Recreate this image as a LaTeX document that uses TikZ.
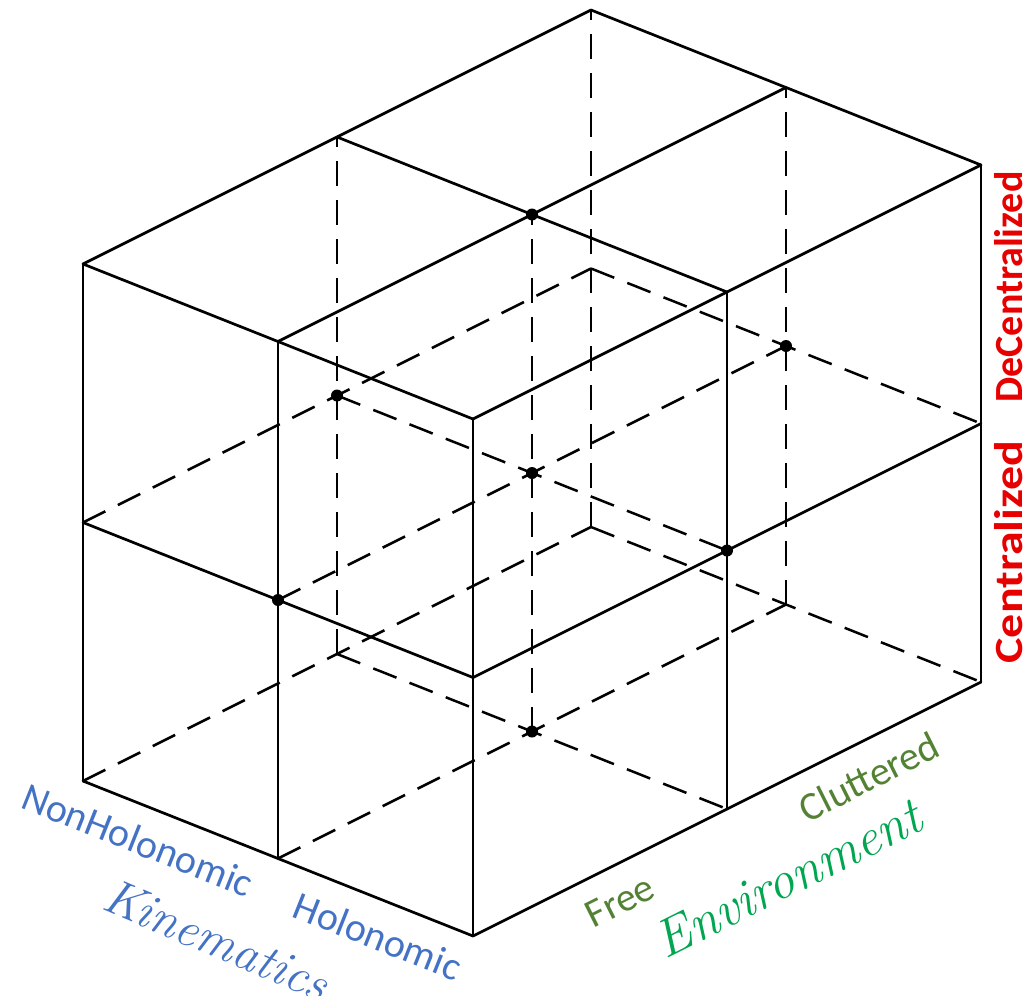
\documentclass[tikz,border=0pt]{standalone}
\usepackage{fontspec}
\setmainfont{Carlito}
\newfontfamily\handfont{Latin Modern Roman}
\definecolor{labred}{RGB}{230,0,0}
\definecolor{labblue}{RGB}{68,114,196}
\definecolor{laboliv}{RGB}{84,130,53}
\definecolor{labgreen}{RGB}{0,166,80}
\tikzset{
  edge/.style={line width=2.7pt, line cap=round, line join=round},
  hidden/.style={line width=2.5pt, dash pattern=on 25pt off 14pt},
  dot/.style={fill=black},
  axislab/.style={font=\fontsize{40}{48}\selectfont\bfseries, text=labred, inner sep=0pt},
  kinlab/.style={font=\fontsize{40}{48}\selectfont, text=labblue, rotate=-21.7, inner sep=0pt},
  envlab/.style={font=\fontsize{40}{48}\selectfont, text=laboliv, rotate=26.6, inner sep=0pt},
  kintitle/.style={font=\handfont\itshape\fontsize{50}{58}\selectfont, text=labblue, rotate=-23, inner sep=0pt},
  envtitle/.style={font=\handfont\itshape\fontsize{53}{60}\selectfont, text=labgreen, rotate=26.6, inner sep=0pt}
}
\begin{document}
\begin{tikzpicture}[x=1pt,y=1pt]
\useasboundingbox (0,0) rectangle (1031,-996);
\begin{scope}[shift={(83,-781)}, x={(195pt,-77.5pt)}, y={(254pt,127pt)}, z={(0pt,258.5pt)}]
  \foreach \i in {0,1,2}{\foreach \j in {0,1,2}{\foreach \k in {0,1,2}{
    \coordinate (p\i\j\k) at (\i,\j,\k);}}}
\end{scope}
% hidden lines
\foreach \a/\b in {1/0,1/1,2/0,2/1}{\draw[hidden] (p0\a\b) -- (p2\a\b);}
\foreach \a/\b in {0/0,0/1,1/0,1/1}{\draw[hidden] (p\a0\b) -- (p\a2\b);}
\foreach \a/\b in {0/1,0/2,1/1,1/2}{\draw[hidden] (p\a\b0) -- (p\a\b2);}
% visible lines
\foreach \a/\b in {0/0,0/1,0/2,1/2,2/2}{\draw[edge] (p0\a\b) -- (p2\a\b);}
\foreach \a/\b in {0/2,1/2,2/0,2/1,2/2}{\draw[edge] (p\a0\b) -- (p\a2\b);}
\foreach \a/\b in {0/0,1/0,2/0,2/1,2/2}{\draw[edge] (p\a\b0) -- (p\a\b2);}
% dots
\foreach \p in {112,011,111,121,211,101,110}{\fill[dot] (p\p) circle (6pt);}
% labels
\node[axislab, rotate=90] (dec) at (1009,-287) {DeCentralized};
\node[axislab, rotate=90] (cen) at (1009,-552) {\scalebox{1.2}[1]{Centralized}};
\node[kinlab] (nonh) at (138,-840) {NonHolonomic};
\node[kinlab] (hol) at (378,-936) {Holonomic};
\node[kintitle] (kin) at (217,-940) {Kinematics};
\node[envlab] (free) at (620,-901) {Free};
\node[envlab] (clut) at (869,-777) {Cluttered};
\node[envtitle] (env) at (788,-878) {Environment};
\end{tikzpicture}
\end{document}
